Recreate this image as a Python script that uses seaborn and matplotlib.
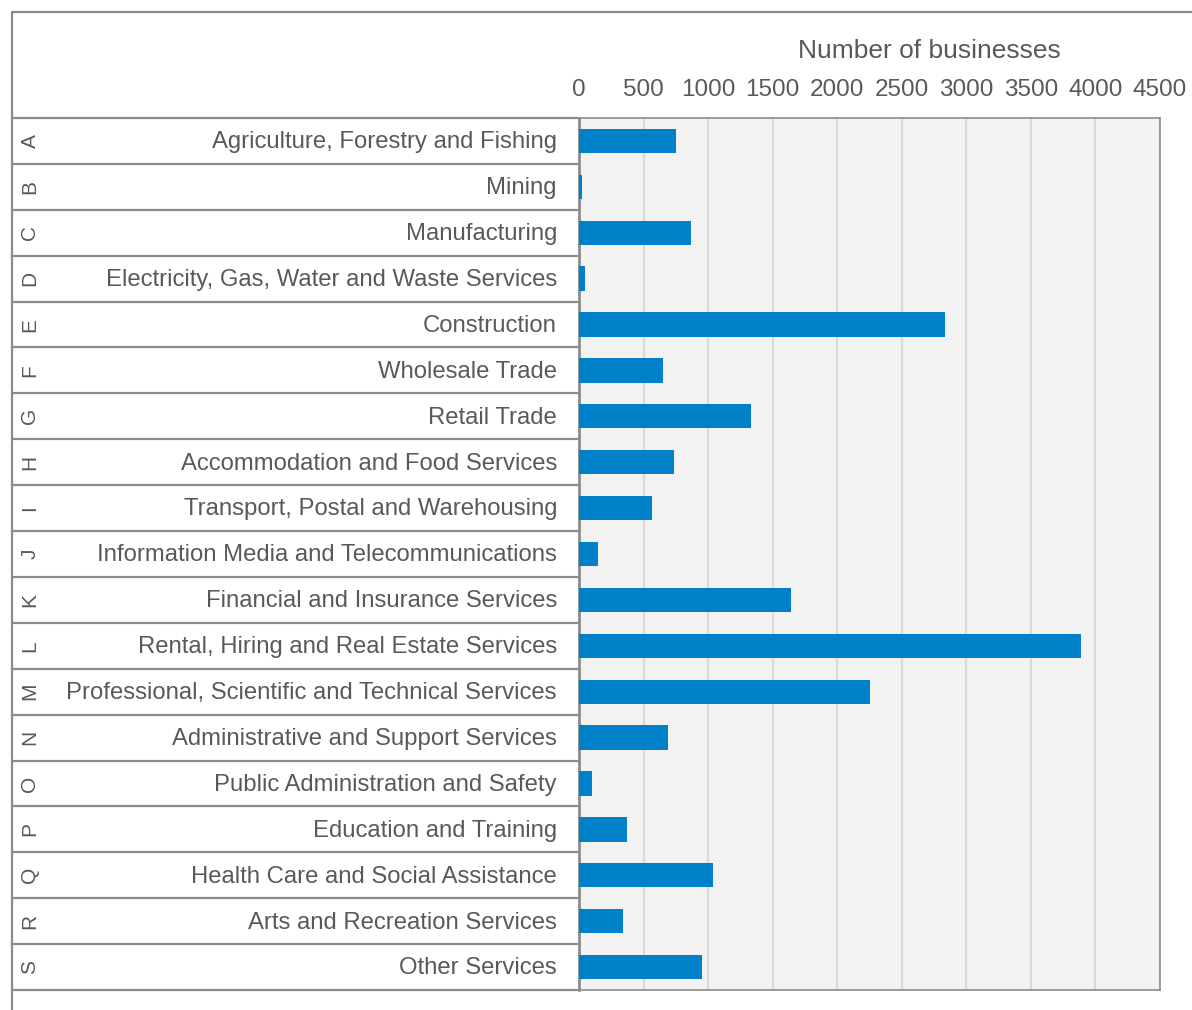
import matplotlib
matplotlib.use("Agg")
import matplotlib.pyplot as plt
import matplotlib.transforms as mtransforms
from matplotlib.lines import Line2D
import seaborn as sns
import pandas as pd

codes = ["A", "B", "C", "D", "E", "F", "G", "H", "I", "J", "K", "L", "M", "N", "O", "P", "Q", "R", "S"]
industries = [
    "Agriculture, Forestry and Fishing",
    "Mining",
    "Manufacturing",
    "Electricity, Gas, Water and Waste Services",
    "Construction",
    "Wholesale Trade",
    "Retail Trade",
    "Accommodation and Food Services",
    "Transport, Postal and Warehousing",
    "Information Media and Telecommunications",
    "Financial and Insurance Services",
    "Rental, Hiring and Real Estate Services",
    "Professional, Scientific and Technical Services",
    "Administrative and Support Services",
    "Public Administration and Safety",
    "Education and Training",
    "Health Care and Social Assistance",
    "Arts and Recreation Services",
    "Other Services",
]
businesses = [750, 20, 865, 45, 2835, 650, 1330, 735, 565, 145, 1640, 3885, 2250, 690, 100, 375, 1035, 340, 950]
x_ticks = [0, 500, 1000, 1500, 2000, 2500, 3000, 3500, 4000, 4500]
x_title = "Number of businesses"

W, H = 1192, 1010
TEXT = "#595959"
BORDER = "#8c8c8c"
BAR = "#0080c8"

sns.set_theme(style="white")
plt.rcParams["font.family"] = ["Liberation Sans", "DejaVu Sans"]

fig = plt.figure(figsize=(W / 100, H / 100), dpi=100)
ax_l, ax_r, ax_t, ax_b = 579, 1160, 118, 990
ax = fig.add_axes([ax_l / W, 1 - ax_b / H, (ax_r - ax_l) / W, (ax_b - ax_t) / H])
ax.set_facecolor("#f2f2f2")

df = pd.DataFrame({"code": codes, "value": businesses})
sns.barplot(data=df, x="value", y="code", orient="h", color=BAR, width=0.53,
            saturation=1, linewidth=0, ax=ax, zorder=3)

ax.set_xlim(0, 4500)
ax.set_ylim(len(codes) - 0.5, -0.5)
ax.set_xticks(x_ticks)
ax.set_xticklabels([str(t) for t in x_ticks])
ax.xaxis.tick_top()
ax.tick_params(axis="x", length=0, pad=12, labelsize=17.5, labelcolor=TEXT)
ax.set_yticks([])
ax.set_xlabel("")
ax.set_ylabel("")
ax.grid(axis="x", color="#d9d9d9", linewidth=1.6, zorder=0)
ax.set_axisbelow(True)
for side, sp in ax.spines.items():
    sp.set_visible(True)
    sp.set_color(BORDER)
    sp.set_linewidth(1.2)
ax.spines["left"].set_linewidth(2.0)

# axis title
fig.text(929 / W, 1 - 51 / H, x_title, ha="center", va="center", fontsize=19, color=TEXT)

# left table: codes and industry labels
blend = mtransforms.blended_transform_factory(fig.transFigure, ax.transData)
for i, (c, name) in enumerate(zip(codes, industries)):
    ax.text(30 / W, i, c, transform=blend, rotation=90, ha="center", va="center",
            fontsize=15, color=TEXT, clip_on=False)
    ax.text(557 / W, i + 0.03, name, transform=blend, ha="right", va="center",
            fontsize=17.2, color=TEXT, clip_on=False)
for k in range(len(codes) + 1):
    y = k - 0.5
    ax.add_line(Line2D([12 / W, ax_l / W], [y, y], transform=blend, color=BORDER,
                       linewidth=1.6, clip_on=False))

# outer frame
fig.add_artist(Line2D([12 / W, 1.0], [1 - 12 / H, 1 - 12 / H], transform=fig.transFigure,
                      color=BORDER, linewidth=1.6))
fig.add_artist(Line2D([12 / W, 12 / W], [1 - 12 / H, 0.0], transform=fig.transFigure,
                      color=BORDER, linewidth=1.6))

fig.savefig("out.png", dpi=100)
